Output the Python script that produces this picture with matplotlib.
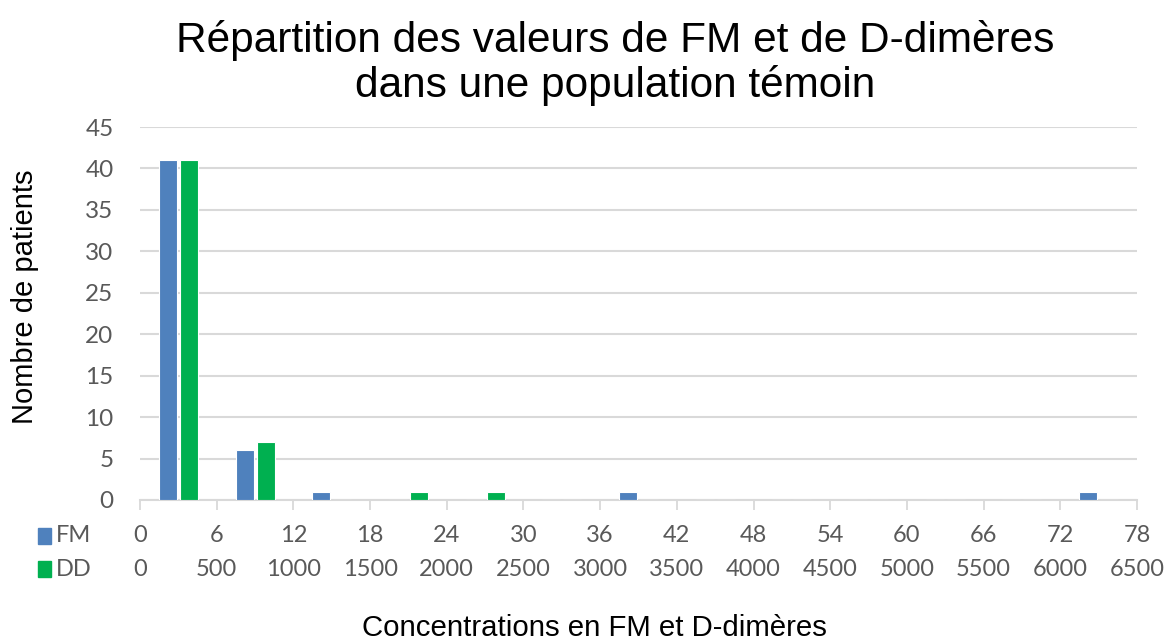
import matplotlib
matplotlib.use("Agg")
import matplotlib.pyplot as plt
import matplotlib.transforms as mtransforms
import numpy as np

fm_labels = ["0", "6", "12", "18", "24", "30", "36", "42", "48", "54", "60", "66", "72", "78"]
dd_labels = ["0", "500", "1000", "1500", "2000", "2500", "3000", "3500", "4000", "4500", "5000", "5500", "6000", "6500"]
fm_values = [41, 6, 1, 0, 0, 0, 1, 0, 0, 0, 0, 0, 1]
dd_values = [41, 7, 0, 1, 1, 0, 0, 0, 0, 0, 0, 0, 0]
y_ticks = [0, 5, 10, 15, 20, 25, 30, 35, 40, 45]

FM_COLOR = "#4F81BD"
DD_COLOR = "#00B050"
GRID = "#D9D9D9"
TXT = "#595959"
TICK_FS = 17

fig = plt.figure(figsize=(11.74, 6.42), dpi=100)
ax = fig.add_axes([140/1174, 142/642, 997/1174, 373/642])

n = len(fm_values)
x = np.arange(n) + 0.5
w = 0.235
off = 0.137
ax.bar(x - off, fm_values, w, color=FM_COLOR, edgecolor="white", linewidth=0.8, zorder=3)
ax.bar(x + off, dd_values, w, color=DD_COLOR, edgecolor="white", linewidth=0.8, zorder=3)

ax.set_xlim(0, n)
ax.set_ylim(0, 45)
ax.set_yticks(y_ticks)
ax.set_yticklabels([str(v) for v in y_ticks], fontsize=TICK_FS + 0.5, color=TXT, family="Lato")
ax.tick_params(axis="y", length=0, pad=19)
ax.yaxis.grid(True, color=GRID, linewidth=1.5, zorder=0)
ax.set_xticks(np.arange(n + 1))
ax.set_xticklabels([])
ax.tick_params(axis="x", length=7, width=1.3, color=GRID, direction="out")
for s in ["top", "right", "left"]:
    ax.spines[s].set_visible(False)
ax.spines["bottom"].set_color(GRID)
ax.spines["bottom"].set_linewidth(1.5)

trans = mtransforms.blended_transform_factory(ax.transData, fig.transFigure)
y_fm = 1 - 536/642
y_dd = 1 - 569/642
for i in range(n + 1):
    ax.text(i, y_fm, fm_labels[i], transform=trans, ha="center", va="center",
            fontsize=TICK_FS, color=TXT, family="Lato")
    ax.text(i, y_dd, dd_labels[i], transform=trans, ha="center", va="center",
            fontsize=TICK_FS, color=TXT, family="Lato")

# legend keys in the table rows
fig.patches.append(plt.Rectangle((38/1174, 1 - 544/642), 13/1174, 16/642,
                                 transform=fig.transFigure, color=FM_COLOR))
fig.patches.append(plt.Rectangle((38/1174, 1 - 577/642), 13/1174, 16/642,
                                 transform=fig.transFigure, color=DD_COLOR))
fig.text(56/1174, y_fm, "FM", ha="left", va="center", fontsize=TICK_FS, color=TXT, family="Lato")
fig.text(56/1174, y_dd, "DD", ha="left", va="center", fontsize=TICK_FS, color=TXT, family="Lato")

fig.text(615/1174, 1 - 63/642, "Répartition des valeurs de FM et de D-dimères\ndans une population témoin",
         ha="center", va="center", fontsize=30.5, color="black", family="Liberation Sans",
         linespacing=1.15)
fig.text(594/1174, 1 - 628/642, "Concentrations en FM et D-dimères", ha="center", va="center",
         fontsize=21.2, color="black", family="Liberation Sans")
fig.text(25/1174, 1 - 297/642, "Nombre de patients", ha="center", va="center", rotation=90,
         fontsize=21, color="black", family="Liberation Sans")

fig.savefig("out.png", dpi=100, facecolor="white")
